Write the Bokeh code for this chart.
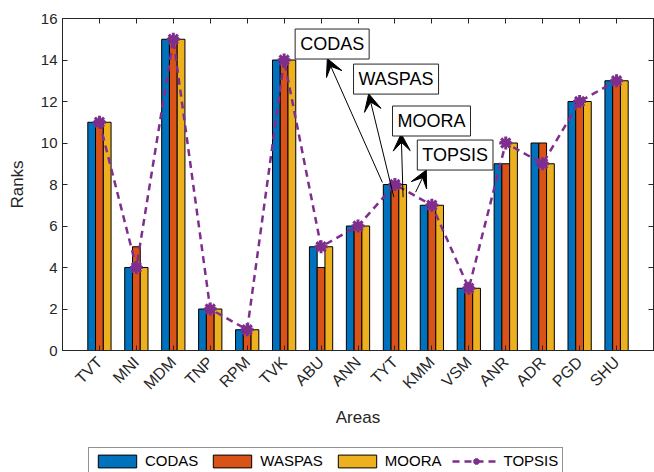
from math import pi
from bokeh.plotting import figure
from bokeh.layouts import column
from bokeh.models import (FixedTicker, LinearAxis, Range1d, Legend, LegendItem,
                          Label, Arrow, VeeHead, ColumnDataSource)
from bokeh.transform import dodge
from bokeh.embed import file_html
from bokeh.resources import INLINE

areas = ["TVT", "MNI", "MDM", "TNP", "RPM", "TVK", "ABU", "ANN", "TYT", "KMM",
         "VSM", "ANR", "ADR", "PGD", "SHU"]
codas = [11, 4, 15, 2, 1, 14, 5, 6, 8, 7, 3, 9, 10, 12, 13]
waspas = [11, 5, 15, 2, 1, 14, 4, 6, 8, 7, 3, 9, 10, 12, 13]
moora = [11, 4, 15, 2, 1, 14, 5, 6, 8, 7, 3, 10, 9, 12, 13]
topsis = [11, 4, 15, 2, 1, 14, 5, 6, 8, 7, 3, 10, 9, 12, 13]
y_ticks = [0, 2, 4, 6, 8, 10, 12, 14, 16]

FONT = "Liberation Sans"
AX = "#262626"
C1, C2, C3, C4 = "#0072BD", "#D95319", "#EDB120", "#7E2F8E"

pos = list(range(1, len(areas) + 1))
bw = 0.21
src = ColumnDataSource(dict(x=pos, codas=codas, waspas=waspas, moora=moora, topsis=topsis))

p = figure(width=654, height=447, output_backend="svg", toolbar_location=None,
           x_range=Range1d(0, 16), y_range=Range1d(0, 16),
           min_border_left=62, min_border_right=1, min_border_top=18, min_border_bottom=97)
p.grid.visible = False
p.outline_line_color = AX
p.background_fill_color = "white"

bar_kw = dict(width=bw, source=src, line_color="black", line_width=1)
p.vbar(x=dodge("x", -bw, range=p.x_range), top="codas", fill_color=C1, **bar_kw)
p.vbar(x=dodge("x", 0, range=p.x_range), top="waspas", fill_color=C2, **bar_kw)
p.vbar(x=dodge("x", bw, range=p.x_range), top="moora", fill_color=C3, **bar_kw)
line_kw = dict(line_color=C4, line_width=2.5, line_dash="7 5")
ast_kw = dict(marker="asterisk", size=13, line_color=C4, line_width=3)
p.line(x="x", y="topsis", source=src, **line_kw)
p.scatter(x="x", y="topsis", source=src, **ast_kw)
p.scatter(x="x", y="topsis", source=src, marker="star", size=11, fill_color=C4, line_color=C4)

def style_axis(ax):
    ax.axis_line_color = AX
    ax.major_tick_line_color = AX
    ax.major_tick_in = 5
    ax.major_tick_out = 0
    ax.minor_tick_line_color = None
    ax.major_label_text_font = FONT
    ax.major_label_text_color = AX
    ax.major_label_text_font_size = "15px"
    ax.axis_label_text_font = FONT
    ax.axis_label_text_color = AX
    ax.axis_label_text_font_size = "17px"
    ax.axis_label_text_font_style = "normal"

p.xaxis.ticker = FixedTicker(ticks=pos)
p.yaxis.ticker = FixedTicker(ticks=y_ticks)
p.xaxis.major_label_overrides = {i + 1: a for i, a in enumerate(areas)}
p.xaxis.major_label_orientation = pi / 4
p.xaxis.axis_label = "Areas"
p.yaxis.axis_label = "Ranks"
style_axis(p.xaxis[0])
style_axis(p.yaxis[0])
p.xaxis.major_label_text_font_size = "16px"
p.xaxis.major_label_standoff = 9
p.xaxis.axis_label_standoff = 6
p.yaxis.axis_label_standoff = 11

top = LinearAxis(ticker=FixedTicker(ticks=pos), major_label_overrides={t: "" for t in pos})
right = LinearAxis(ticker=FixedTicker(ticks=y_ticks), major_label_overrides={t: "" for t in y_ticks})
style_axis(top)
style_axis(right)
top.major_label_standoff = 0
right.major_label_standoff = 0
p.add_layout(top, "above")
p.add_layout(right, "right")

ann_text = ["CODAS", "WASPAS", "MOORA", "TOPSIS"]
ann_label_xy = [(7.30, 14.77), (9.03, 13.08), (9.99, 11.06), (10.63, 9.42)]
ann_arrow = [((8.66, 8.10), (7.17, 14.07)), ((8.97, 7.39), (8.29, 12.37)),
             ((9.22, 7.39), (9.17, 10.44)), ((9.56, 7.63), (9.85, 8.70))]
for t, (lx, ly), ((sx, sy), (ex, ey)) in zip(ann_text, ann_label_xy, ann_arrow):
    p.add_layout(Arrow(x_start=sx, y_start=sy, x_end=ex, y_end=ey, line_color="black", line_width=1,
                       end=VeeHead(size=17, fill_color="black", line_color="black")))
    p.add_layout(Label(x=lx, y=ly, text=t, text_align="center", text_baseline="middle",
                       text_font=FONT, text_font_size="18px", text_color="black",
                       border_line_color=AX, border_line_width=1, background_fill_color="white",
                       padding=5))

# legend strip below the chart (swatch renderers sit outside the visible range)
lg = figure(width=654, height=25, output_backend="svg", toolbar_location=None,
            x_range=Range1d(0, 1), y_range=Range1d(0, 1), min_border=0)
lg.axis.visible = False
lg.grid.visible = False
lg.outline_line_color = None
swatch = ColumnDataSource(dict(x=[-10], top=[-10], y=[-10]))
g1 = lg.vbar(x="x", top="top", width=0.1, source=swatch, fill_color=C1, line_color="black")
g2 = lg.vbar(x="x", top="top", width=0.1, source=swatch, fill_color=C2, line_color="black")
g3 = lg.vbar(x="x", top="top", width=0.1, source=swatch, fill_color=C3, line_color="black")
g4 = lg.line(x="x", y="y", source=swatch, **line_kw)
g5 = lg.scatter(x="x", y="y", source=swatch, **ast_kw)
legend = Legend(items=[LegendItem(label="CODAS", renderers=[g1]),
                       LegendItem(label="WASPAS", renderers=[g2]),
                       LegendItem(label="MOORA", renderers=[g3]),
                       LegendItem(label="TOPSIS", renderers=[g4, g5])],
                orientation="horizontal", location=(26, -2),
                label_text_font=FONT, label_text_font_size="15px", label_text_color="black",
                glyph_width=48, glyph_height=16, label_standoff=4, spacing=10,
                padding=4, margin=0, border_line_color=AX, border_line_width=1)
lg.add_layout(legend, "center")

page = column(p, lg, spacing=0)
open("out.html", "w").write(file_html(page, INLINE))
